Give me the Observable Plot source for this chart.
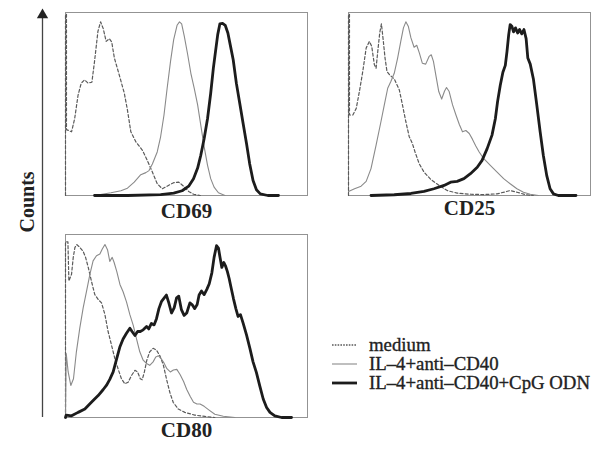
<!DOCTYPE html>
<html>
<head>
<meta charset="utf-8">
<script src="https://cdn.jsdelivr.net/npm/d3@7"></script>
<script src="https://cdn.jsdelivr.net/npm/@observablehq/plot@0.6"></script>
<style>
  html, body { margin: 0; padding: 0; background: #fff; }
  #wrap { position: relative; width: 591px; height: 449px; overflow: hidden; }
  .leg { position: absolute; left: 332px; height: 20px; display: flex; align-items: center;
         font-family: "Liberation Serif", "DejaVu Serif", serif; font-weight: normal; font-size: 18.8px; color: #222;
         -webkit-text-stroke: 0.35px #222; white-space: nowrap; }
  .leg svg { margin-right: 12px; }
</style>
</head>
<body>
<div id="wrap"></div>
<script>
// ---------- data (x: relative fluorescence position 0–100, y: relative counts 0–100) ----------
const panelNames = ["CD69", "CD25", "CD80"];
const seriesNames = ["medium", "IL–4+anti–CD40", "IL–4+anti–CD40+CpG ODN"];

const cd69Medium = [[0,0],[0,99],[0.4,99],[0.4,36],[2.5,34.8],[3.8,42.1],[5.2,54.9],[6.5,61.4],[7.9,63.2],[9.3,61.4],[10.9,61.9],[12.0,73.3],[13.4,89.7],[14.5,94.9],[15.6,91.2],[16.8,84.2],[18.1,85.7],[19.1,83.9],[20.2,75.1],[22.2,65.9],[24.3,55.9],[25.6,46.7],[27.0,34.8],[29.1,29.3],[31.8,24.7],[33.8,19.2],[35.9,12.8],[37.9,6.4],[40.0,3.7],[42.0,5.1],[44.7,7.0],[46.8,7.3],[48.8,5.1],[50.9,2.2],[52.9,0.7],[55.7,0]];
const cd69IL4 = [[12.0,0],[18.8,1.5],[22.9,2.6],[25.6,4.0],[28.4,7.3],[31.1,11.4],[33.2,12.5],[34.5,13.6],[35.9,17.2],[37.9,23.8],[39.3,32.1],[40.7,44.0],[42.0,58.6],[43.4,73.3],[44.7,85.2],[46.1,93.0],[47.1,94.9],[48.0,93.8],[49.1,87.0],[50.5,76.9],[51.8,66.8],[53.2,58.6],[54.6,49.5],[55.9,38.5],[57.3,26.6],[58.7,16.5],[60.0,9.2],[61.4,4.6],[63.2,1.5],[65.9,0]];
const cd69CpG = [[12,0],[25.6,0],[39.3,0.5],[44.7,1.3],[48.2,2.6],[50.9,5.1],[52.9,9.2],[54.6,15.0],[55.9,22.0],[57.3,31.1],[58.7,42.1],[60.0,55.9],[61.1,69.6],[61.9,77.8],[62.9,87.9],[63.8,93.8],[64.9,94.1],[66.0,93.0],[67.1,88.8],[68.2,81.5],[69.3,74.2],[70.6,61.4],[72.0,50.4],[73.4,39.4],[74.8,28.4],[76.1,17.4],[77.5,8.2],[78.9,3.1],[80.5,0.9],[83.6,0],[88,0]];

const cd25Medium = [[0,0],[0,99],[0.4,99],[0.4,44],[1.8,44.0],[3.2,47.6],[4.5,56.8],[5.9,67.8],[7.3,80.6],[8.6,84.2],[9.6,81.5],[10.7,71.4],[11.4,69.6],[12.1,78.8],[12.9,88.8],[13.6,93.8],[14.4,84.2],[15.1,75.1],[15.9,67.8],[17.0,65.9],[18.9,63.7],[21.0,57.7],[22.3,49.5],[23.7,40.3],[25.1,32.1],[26.4,28.4],[27.5,23.8],[29.2,17.4],[31.2,12.8],[34.0,8.8],[37.4,5.5],[40.8,2.7],[44.9,1.3],[50.4,0.7],[55.9,0.5],[61.4,0.9],[64.8,2.0],[66.8,2.7],[69.6,1.8],[73.0,0.5],[76.4,0]];
const cd25IL4 = [[0,2.2],[2.5,3.7],[5.2,5.1],[7.3,7.7],[9.3,14.7],[11.4,27.5],[13.4,40.3],[14.8,49.5],[16.2,58.6],[17.5,62.3],[18.9,66.8],[20.3,75.1],[21.6,84.2],[22.7,91.6],[23.7,94.9],[24.7,92.5],[25.8,86.1],[27.1,81.0],[28.2,82.1],[29.3,77.8],[30.5,72.3],[31.9,71.8],[33.3,76.0],[34.2,76.9],[35.1,73.3],[36.2,65.0],[37.3,56.8],[38.5,52.7],[39.7,57.1],[40.5,59.0],[41.6,56.8],[43.0,49.5],[44.4,44.0],[45.8,38.8],[47.1,34.8],[48.5,35.5],[49.9,33.9],[51.2,30.8],[52.6,27.1],[54.0,23.8],[55.9,20.1],[58.6,16.5],[61.4,12.8],[64.1,9.2],[66.8,6.4],[69.6,3.7],[72.3,1.8],[75.1,0.7],[78.5,0]];
const cd25CpG = [[9.3,0],[18.9,0.4],[25.8,1.1],[31.2,2.2],[35.3,3.7],[39.5,5.5],[42.2,7.3],[44.9,7.7],[47.7,9.2],[50.4,11.9],[53.2,15.4],[55.2,19.2],[57.3,25.6],[59.3,33.0],[60.7,42.1],[61.6,51.3],[62.7,60.1],[63.8,67.4],[64.8,71.1],[65.5,78.8],[66.2,87.9],[66.8,93.4],[67.5,92.5],[68.2,89.4],[69.0,91.6],[69.9,88.8],[70.7,90.7],[71.6,88.3],[72.5,90.7],[73.4,85.7],[74.1,75.1],[75.1,71.8],[76.4,63.7],[77.8,49.5],[79.2,34.8],[80.5,22.0],[81.9,11.0],[83.3,3.7],[84.7,0.9],[86.7,0],[94,0]];

const cd80Medium = [[0,0],[0,96],[1.0,96],[1.4,74.6],[2.5,78.3],[3.2,87.5],[3.9,93.0],[4.7,94.5],[5.9,93.0],[7.3,90.8],[8.3,87.5],[9.4,82.0],[10.7,74.6],[12.1,67.2],[13.5,64.5],[14.9,62.6],[16.3,56.2],[17.6,47.0],[19.0,39.6],[20.4,32.2],[21.8,26.3],[23.1,21.2],[24.5,18.4],[25.9,19.3],[27.3,23.0],[28.7,25.8],[29.8,24.9],[30.9,21.2],[31.7,20.6],[32.6,24.9],[33.6,31.3],[34.8,35.9],[36.2,37.8],[37.6,36.8],[39.0,33.7],[40.4,28.9],[41.7,21.2],[43.1,13.8],[44.5,8.3],[46.6,4.6],[49.3,2.8],[53.4,1.3],[57.6,0.6],[61.7,0]];
const cd80IL4 = [[0,0],[0.3,35.0],[1.1,24.9],[2.2,17.5],[3.3,21.2],[4.5,35.9],[5.9,48.8],[7.3,59.9],[8.7,69.1],[10.1,78.3],[11.4,85.6],[12.8,88.4],[14.2,89.3],[15.2,92.1],[16.3,94.5],[17.4,91.5],[18.3,85.3],[19.3,87.5],[20.1,84.7],[21.2,79.7],[22.5,72.7],[23.8,68.7],[25.2,63.2],[26.6,56.2],[28.0,50.3],[29.3,43.3],[30.7,35.9],[32.1,31.3],[33.5,29.5],[34.8,28.5],[36.2,30.4],[37.3,33.1],[38.4,33.7],[39.5,32.2],[40.6,30.0],[41.9,26.7],[43.3,24.9],[44.6,26.0],[46.0,26.3],[47.4,23.4],[48.8,19.7],[50.1,15.3],[51.5,11.6],[52.9,8.3],[54.3,7.4],[55.6,7.4],[57.3,6.1],[59.2,4.2],[61.7,1.8],[65.2,0.7],[70.0,0]];
const cd80CpG = [[0,0],[0.3,1.3],[2.5,0.9],[5.2,2.8],[8.0,4.6],[10.7,8.3],[13.5,12.0],[15.6,15.3],[16.9,17.5],[18.3,20.8],[19.7,24.9],[21.1,31.9],[22.5,38.7],[23.8,42.9],[25.2,46.0],[26.6,48.8],[27.5,47.0],[28.7,44.8],[29.8,47.0],[30.9,47.0],[32.1,47.9],[33.5,49.7],[34.4,48.4],[35.5,51.4],[36.6,50.6],[37.6,54.0],[38.6,59.5],[39.7,63.5],[40.8,65.4],[41.7,66.9],[42.7,62.6],[43.8,57.1],[44.9,59.9],[45.9,65.4],[46.8,66.3],[47.9,58.9],[49.0,55.8],[50.1,57.1],[51.4,62.6],[52.3,61.7],[53.4,59.5],[54.4,61.7],[55.2,66.9],[56.2,69.1],[57.3,67.2],[58.4,70.0],[59.4,73.1],[60.5,79.2],[61.4,87.5],[62.4,93.9],[63.2,92.6],[63.9,87.1],[64.6,82.0],[65.4,84.7],[66.1,82.9],[66.9,79.7],[67.6,76.1],[68.5,70.5],[69.4,65.0],[70.4,59.5],[71.3,55.2],[72.3,56.2],[73.4,51.6],[74.8,45.1],[76.2,37.8],[77.5,30.4],[78.9,24.5],[80.3,17.1],[81.7,10.1],[83.1,5.5],[84.5,2.8],[86.5,0.9],[89.3,0],[93.4,0]];

// ---------- layout / style config ----------
const panelCell = {CD69: [0, 0], CD25: [1, 0], CD80: [0, 1]};   // [column, row] of the 2×2 grid
const labelDy = {CD69: 22, CD25: 19, CD80: 19};
const styleOf = {
  "medium": {stroke: "#5a5a5a", strokeWidth: 1.2, strokeDasharray: "3,2.2"},
  "IL–4+anti–CD40": {stroke: "#8a8a8a", strokeWidth: 1.1},
  "IL–4+anti–CD40+CpG ODN": {stroke: "#1c1c1c", strokeWidth: 2.8}
};

const curves = {
  CD69: [cd69Medium, cd69IL4, cd69CpG],
  CD25: [cd25Medium, cd25IL4, cd25CpG],
  CD80: [cd80Medium, cd80IL4, cd80CpG]
};

const rows = [];
for (const p of panelNames) {
  curves[p].forEach((arr, i) => {
    for (const [x, y] of arr) rows.push({panel: p, series: seriesNames[i], x, y, col: panelCell[p][0], row: panelCell[p][1]});
  });
}
const panels = panelNames.map(p => ({name: p, col: panelCell[p][0], row: panelCell[p][1]}));
const axisCell = [{col: 0, row: 1, x: 0}];

const W = 591, H = 449, mTop = 12, mBottom = 32;

const marks = [
  Plot.frame({stroke: "#939393", strokeWidth: 1})
];
for (const s of seriesNames) {
  marks.push(Plot.line(rows.filter(d => d.series === s), {
    x: "x", y: "y", z: "panel", fx: "col", fy: "row", ...styleOf[s], strokeLinejoin: "round"
  }));
}
for (const p of panels) {
  marks.push(Plot.text([p], {
    fx: "col", fy: "row", text: "name", frameAnchor: "bottom", dy: labelDy[p.name],
    fontFamily: "Liberation Serif", fontWeight: "bold", fontSize: 21, fill: "#222"
  }));
}
// y "Counts" axis arrow drawn from the lower-left panel
marks.push(Plot.ruleX(axisCell, {x: "x", fx: "col", fy: "row", dx: -23, insetTop: -218, stroke: "#444", strokeWidth: 1.3}));
marks.push(Plot.dot(axisCell, {fx: "col", fy: "row", frameAnchor: "top-left", dx: -23, dy: -219.5, symbol: "triangle", r: 4.2, fill: "#222", stroke: "none"}));
marks.push(Plot.text(axisCell, {
  fx: "col", fy: "row", text: () => "Counts", frameAnchor: "top-left", dx: -46, dy: -2, rotate: -90,
  fontFamily: "Liberation Serif", fontWeight: "bold", fontSize: 20, fill: "#222"
}));

const chart = Plot.plot({
  width: W, height: H,
  marginTop: mTop, marginRight: 1, marginBottom: mBottom, marginLeft: 64,
  x: {domain: [0, 100], axis: null},
  y: {domain: [0, 100], axis: null},
  fx: {domain: [0, 1], axis: null, paddingInner: 0.145, paddingOuter: 0},
  fy: {domain: [0, 1], axis: null, paddingInner: 0.176, paddingOuter: 0},
  style: {background: "#fff", overflow: "visible"},
  marks
});
const wrap = document.getElementById("wrap");
wrap.appendChild(chart);

// legend (HTML, placed in the empty lower-right cell)
const legendTops = [345, 364, 383];
seriesNames.forEach((s, i) => {
  const st = styleOf[s];
  const div = document.createElement("div");
  div.className = "leg";
  div.style.top = (legendTops[i] - 10) + "px";
  const dash = s === "medium" ? ' stroke-dasharray="1.6,1.2"' : "";
  div.innerHTML = `<svg width="25" height="10"><line x1="0" x2="25" y1="5" y2="5" stroke="${st.stroke}" stroke-width="${s === "medium" ? 1.3 : st.strokeWidth}"${dash}/></svg><span>${s}</span>`;
  wrap.appendChild(div);
});
</script>
</body>
</html>
